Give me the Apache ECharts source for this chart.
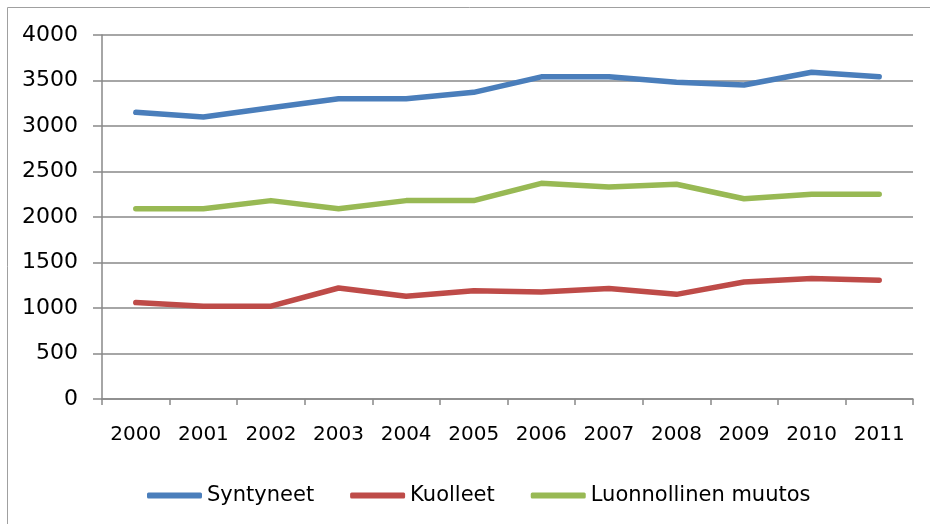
<!DOCTYPE html>
<html>
<head>
<meta charset="utf-8">
<script src="https://cdn.jsdelivr.net/npm/echarts@6/dist/echarts.min.js"></script>
<style>
  html, body { margin: 0; padding: 0; background: #fff; }
  #chart { width: 930px; height: 524px; }
</style>
</head>
<body>
<div id="chart"></div>
<script>
// data
const years = ['2000','2001','2002','2003','2004','2005','2006','2007','2008','2009','2010','2011'];
const syntyneet = [3150, 3100, 3200, 3300, 3300, 3370, 3540, 3540, 3480, 3450, 3590, 3540];
const kuolleet  = [1060, 1020, 1020, 1220, 1130, 1190, 1175, 1215, 1150, 1285, 1325, 1305];
const muutos    = [2090, 2090, 2180, 2090, 2180, 2180, 2370, 2330, 2360, 2200, 2250, 2250];
const seriesNames = ['Syntyneet', 'Kuolleet', 'Luonnollinen muutos'];
const colors = ['#4a7ebb', '#be4b48', '#98b954'];

const font = 'DejaVu Sans';
const gray = '#898989';

const chart = echarts.init(document.getElementById('chart'));

function mkSeries(name, data, i) {
  return {
    name: name,
    type: 'line',
    data: data,
    symbol: 'none',
    lineStyle: { width: 5.5, color: colors[i], cap: 'round', join: 'round' },
    itemStyle: { color: colors[i] }
  };
}

chart.setOption({
  animation: false,
  textStyle: { fontFamily: font },
  graphic: [{
    type: 'rect',
    shape: { x: 7.5, y: 7.5, width: 940, height: 540 },
    style: { fill: 'none', stroke: '#a0a0a0', lineWidth: 1 },
    silent: true
  }],
  grid: { left: 102, right: 17, top: 35, bottom: 125 },
  legend: {
    left: 142,
    top: 480,
    itemWidth: 55,
    itemHeight: 6,
    itemGap: 36,
    icon: 'roundRect',
    data: seriesNames,
    textStyle: { fontFamily: font, fontSize: 21, color: '#000' }
  },
  xAxis: {
    type: 'category',
    data: years,
    boundaryGap: true,
    axisLine: { lineStyle: { color: gray, width: 1.5 } },
    axisTick: { show: true, length: 6, lineStyle: { color: gray, width: 1.5 } },
    axisLabel: { fontSize: 20, color: '#000', margin: 26, fontFamily: font, interval: 0 }
  },
  yAxis: {
    type: 'value',
    min: 0,
    max: 4000,
    interval: 500,
    axisLine: { show: true, lineStyle: { color: gray, width: 1.5 } },
    axisTick: { show: true, length: 9, lineStyle: { color: gray, width: 1.5 } },
    axisLabel: { fontSize: 22, color: '#000', margin: 24, fontFamily: font, formatter: v => String(v) },
    splitLine: { lineStyle: { color: gray, width: 1.5 } }
  },
  series: [
    mkSeries(seriesNames[0], syntyneet, 0),
    mkSeries(seriesNames[1], kuolleet, 1),
    mkSeries(seriesNames[2], muutos, 2)
  ]
});
</script>
</body>
</html>
